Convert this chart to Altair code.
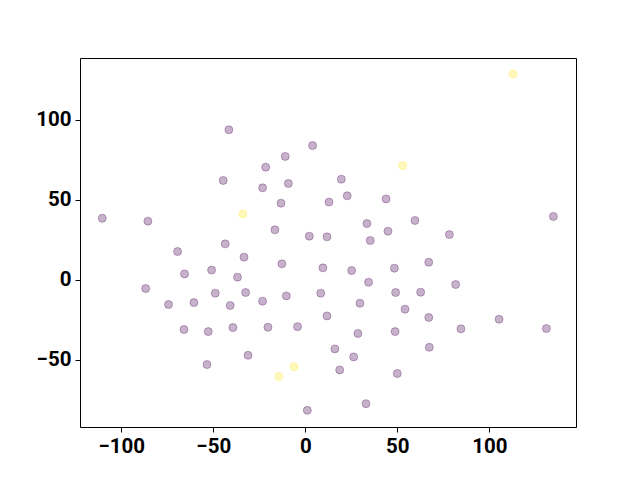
import altair as alt
import pandas as pd

xs = [112.9, -41.5, 4.0, 52.9, -10.9, -21.5, -44.6, 19.6, -23.2, -9.2,
      22.8, 43.9, 12.9, -13.2, -33.9, -110.3, -85.5, 59.6, 33.5, -16.5,
      44.9, 2.2, 11.8, 35.3, 78.3, 134.8, -43.5, -69.4, -33.3, -50.9,
      -65.6, -36.8, -86.7, -48.9, -32.4, -60.5, -74.3, -40.8, -65.9, -52.7,
      -39.3, -31.1, -53.4, -12.7, 9.6, 25.2, 48.4, 34.4, -23.2, -10.3,
      8.4, 49.1, 29.7, 54.2, 11.8, -20.3, -4.2, 28.6, 48.8, 16.1,
      26.3, -6.1, -14.3, 18.7, 50.0, 33.0, 1.1, 67.1, 81.7, 62.7,
      67.1, 84.6, 105.3, 131.0, 67.4]
ys = [128.6, 93.75, 83.9, 71.4, 77.1, 70.4, 62.1, 62.9, 57.5, 60.2,
      52.5, 50.6, 48.6, 47.9, 41.1, 38.5, 36.7, 37.1, 35.2, 31.25,
      30.4, 27.3, 26.9, 24.6, 28.3, 39.6, 22.5, 17.7, 14.2, 6.1,
      3.75, 1.7, -5.4, -8.3, -7.9, -14.2, -15.4, -16.0, -31.0, -32.3,
      -29.8, -47.1, -52.9, 10.0, 7.5, 5.8, 7.3, -1.5, -13.3, -10.0,
      -8.3, -7.9, -14.6, -18.3, -22.5, -29.6, -29.2, -33.5, -32.3, -43.1,
      -48.1, -54.2, -60.4, -56.25, -58.5, -77.3, -81.5, 11.0, -2.9, -7.7,
      -23.5, -30.6, -24.6, -30.4, -42.1]
labels = [1, 0, 0, 1, 0, 0, 0, 0, 0, 0,
          0, 0, 0, 0, 1, 0, 0, 0, 0, 0,
          0, 0, 0, 0, 0, 0, 0, 0, 0, 0,
          0, 0, 0, 0, 0, 0, 0, 0, 0, 0,
          0, 0, 0, 0, 0, 0, 0, 0, 0, 0,
          0, 0, 0, 0, 0, 0, 0, 0, 0, 0,
          0, 1, 1, 0, 0, 0, 0, 0, 0, 0,
          0, 0, 0, 0, 0]

x_ticks = [-100, -50, 0, 50, 100]
y_ticks = [-50, 0, 50, 100]

df = pd.DataFrame({"x": xs, "y": ys, "label": labels})

x_dom = [-122.4, 147.1]
y_dom = [-91.9, 138.6]

axis_common = dict(
    labelFont="Roboto", labelFontWeight="bold", labelFontSize=20.5,
    labelColor="black", domainColor="black", tickColor="black",
    tickSize=5, grid=False, title=None, labelPadding=4,
    labelExpr="replace(datum.label, '-', '\u2212')",
)
frame_axis = dict(labels=False, ticks=False, domainColor="black", grid=False, title=None)

pts = alt.Chart(df).mark_circle(
    size=64, fillOpacity=0.3, strokeOpacity=0.3, strokeWidth=1
).encode(
    x=alt.X("x:Q", scale=alt.Scale(domain=x_dom, nice=False, zero=False),
            axis=alt.Axis(values=x_ticks, **axis_common)),
    y=alt.Y("y:Q", scale=alt.Scale(domain=y_dom, nice=False, zero=False),
            axis=alt.Axis(values=y_ticks, **axis_common)),
    color=alt.Color("label:O", scale=alt.Scale(domain=[0, 1], range=["#440154", "#fde725"]), legend=None),
    stroke=alt.Stroke("label:O", scale=alt.Scale(domain=[0, 1], range=["#440154", "#fde725"]), legend=None),
)

frame = alt.Chart(df).mark_circle(opacity=0).encode(
    x=alt.X("x:Q", scale=alt.Scale(domain=x_dom, nice=False, zero=False),
            axis=alt.Axis(orient="top", **frame_axis)),
    y=alt.Y("y:Q", scale=alt.Scale(domain=y_dom, nice=False, zero=False),
            axis=alt.Axis(orient="right", **frame_axis)),
)

chart = alt.layer(pts, frame).resolve_scale(
    x="independent", y="independent"
).properties(
    width=496, height=369,
    padding={"left": 72, "top": 50, "right": 56, "bottom": 45},
    autosize=alt.AutoSizeParams(type="none"),
).configure_view(
    strokeWidth=0
).configure(background="white")

chart.save("out.html", embed_options={"renderer": "svg", "actions": False})
